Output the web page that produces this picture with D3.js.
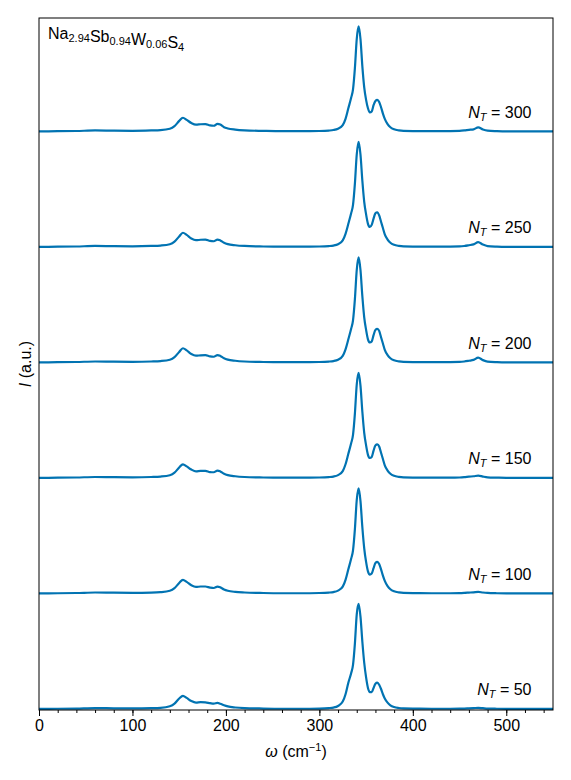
<!DOCTYPE html>
<html>
<head>
<meta charset="utf-8">
<title>Raman spectra</title>
<script src="https://d3js.org/d3.v7.min.js"></script>
<style>
    body { margin: 0; background: white; }
    svg { font-family: "Liberation Sans", Arial, sans-serif; }
</style>
</head>
<body>
<div id="chart"></div>
<script>
// wavenumber grid (cm^-1)
var omega = [0, 20, 40, 60, 80, 100, 120, 130, 140, 145, 150, 154, 158, 163, 168, 173, 178, 183, 187, 191, 194, 198, 202, 210, 220, 240, 260, 280, 300, 310, 315, 320, 325, 328, 331, 334, 336, 338, 340, 342, 344, 346, 348, 350, 352, 354, 356, 358, 360, 362, 364, 366, 368, 370, 373, 376, 380, 385, 390, 400, 420, 440, 450, 455, 460, 465, 470, 475, 480, 490, 500, 520, 550];

// normalized intensities, one array per N_T
var I50 = [0, 0.002, 0.004, 0.008, 0.006, 0.005, 0.007, 0.01, 0.025, 0.05, 0.1, 0.125, 0.105, 0.075, 0.06, 0.065, 0.062, 0.055, 0.05, 0.058, 0.05, 0.035, 0.024, 0.014, 0.008, 0.004, 0.002, 0.002, 0.004, 0.008, 0.013, 0.028, 0.07, 0.14, 0.25, 0.34, 0.42, 0.62, 0.9, 1.0, 0.88, 0.64, 0.44, 0.3, 0.2, 0.16, 0.16, 0.2, 0.24, 0.25, 0.23, 0.19, 0.14, 0.1, 0.06, 0.035, 0.018, 0.009, 0.005, 0.003, 0.002, 0.002, 0.003, 0.004, 0.006, 0.008, 0.01, 0.007, 0.004, 0.002, 0.001, 0.001, 0];
var I100 = [0, 0.002, 0.004, 0.009, 0.007, 0.006, 0.008, 0.012, 0.025, 0.05, 0.1, 0.13, 0.11, 0.078, 0.062, 0.066, 0.066, 0.056, 0.052, 0.065, 0.058, 0.038, 0.026, 0.015, 0.009, 0.004, 0.002, 0.002, 0.004, 0.008, 0.013, 0.027, 0.065, 0.13, 0.23, 0.33, 0.41, 0.61, 0.89, 1.0, 0.88, 0.63, 0.43, 0.3, 0.21, 0.18, 0.19, 0.24, 0.29, 0.3, 0.28, 0.23, 0.17, 0.12, 0.07, 0.04, 0.02, 0.01, 0.005, 0.003, 0.002, 0.002, 0.003, 0.005, 0.008, 0.011, 0.015, 0.009, 0.005, 0.002, 0.001, 0.001, 0];
var I150 = [0, 0.002, 0.004, 0.009, 0.007, 0.006, 0.009, 0.013, 0.026, 0.05, 0.1, 0.13, 0.11, 0.08, 0.063, 0.068, 0.068, 0.056, 0.054, 0.07, 0.062, 0.04, 0.027, 0.016, 0.009, 0.004, 0.002, 0.002, 0.004, 0.008, 0.013, 0.027, 0.065, 0.13, 0.23, 0.33, 0.41, 0.61, 0.89, 1.0, 0.88, 0.63, 0.43, 0.31, 0.22, 0.19, 0.2, 0.26, 0.31, 0.32, 0.3, 0.24, 0.18, 0.12, 0.07, 0.04, 0.02, 0.01, 0.005, 0.003, 0.002, 0.002, 0.004, 0.007, 0.012, 0.016, 0.022, 0.013, 0.006, 0.003, 0.001, 0.001, 0];
var I200 = [0, 0.002, 0.004, 0.009, 0.007, 0.006, 0.009, 0.013, 0.026, 0.05, 0.1, 0.135, 0.115, 0.08, 0.064, 0.068, 0.07, 0.057, 0.054, 0.07, 0.062, 0.04, 0.027, 0.016, 0.009, 0.004, 0.002, 0.002, 0.004, 0.008, 0.013, 0.026, 0.062, 0.125, 0.22, 0.32, 0.4, 0.6, 0.88, 1.0, 0.88, 0.63, 0.43, 0.31, 0.22, 0.19, 0.2, 0.26, 0.31, 0.32, 0.3, 0.24, 0.18, 0.12, 0.07, 0.04, 0.02, 0.01, 0.005, 0.003, 0.002, 0.003, 0.005, 0.009, 0.016, 0.024, 0.045, 0.022, 0.008, 0.003, 0.001, 0.001, 0];
var I250 = [0, 0.002, 0.004, 0.009, 0.007, 0.006, 0.009, 0.013, 0.026, 0.05, 0.1, 0.135, 0.115, 0.08, 0.064, 0.068, 0.07, 0.057, 0.054, 0.07, 0.062, 0.04, 0.027, 0.016, 0.009, 0.004, 0.002, 0.002, 0.004, 0.008, 0.013, 0.026, 0.062, 0.125, 0.22, 0.32, 0.4, 0.6, 0.88, 1.0, 0.88, 0.63, 0.43, 0.31, 0.22, 0.19, 0.21, 0.27, 0.32, 0.33, 0.3, 0.24, 0.18, 0.12, 0.07, 0.04, 0.02, 0.01, 0.005, 0.003, 0.002, 0.003, 0.005, 0.009, 0.016, 0.024, 0.045, 0.022, 0.008, 0.003, 0.001, 0.001, 0];
var I300 = [0, 0.002, 0.004, 0.009, 0.007, 0.006, 0.009, 0.012, 0.025, 0.05, 0.1, 0.13, 0.11, 0.08, 0.064, 0.068, 0.07, 0.057, 0.054, 0.072, 0.065, 0.04, 0.028, 0.017, 0.01, 0.005, 0.002, 0.002, 0.004, 0.008, 0.013, 0.026, 0.06, 0.12, 0.22, 0.32, 0.4, 0.6, 0.88, 1.0, 0.88, 0.62, 0.42, 0.3, 0.22, 0.18, 0.19, 0.25, 0.29, 0.3, 0.28, 0.23, 0.17, 0.12, 0.07, 0.04, 0.02, 0.01, 0.005, 0.003, 0.002, 0.003, 0.005, 0.009, 0.015, 0.02, 0.038, 0.018, 0.007, 0.003, 0.001, 0.001, 0];

var labels = [50, 100, 150, 200, 250, 300];
var series = [I50, I100, I150, I200, I250, I300];
var offset = 1.1;

var W = 571, H = 780;
var margin = { top: 18, right: 18, bottom: 70, left: 39 };
var width = W - margin.left - margin.right;
var height = H - margin.top - margin.bottom;

var svg = d3.select("#chart").append("svg")
    .attr("width", W)
    .attr("height", H);

var g = svg.append("g")
    .attr("transform", "translate(" + margin.left + "," + margin.top + ")");

var x = d3.scaleLinear().domain([0, 550]).range([0, width]);
var y = d3.scaleLinear().domain([-0.01, 5 * offset + 1.08]).range([height, 0]);

var line = d3.line()
    .x(function(d) { return x(d[0]); })
    .y(function(d) { return y(d[1]); })
    .curve(d3.curveMonotoneX);

g.append("defs").append("clipPath").attr("id", "clip")
    .append("rect").attr("width", width).attr("height", height);

series.forEach(function(vals, i) {
    var pts = omega.map(function(w, j) { return [w, vals[j] + i * offset]; });
    g.append("path")
        .datum(pts)
        .attr("clip-path", "url(#clip)")
        .attr("fill", "none")
        .attr("stroke", "#0173b2")
        .attr("stroke-width", 2.2)
        .attr("stroke-linejoin", "round")
        .attr("d", line);

    // N_T label
    var t = g.append("text")
        .attr("x", x(527))
        .attr("y", y(i * offset + 0.13))
        .attr("text-anchor", "end")
        .style("font-size", "16px");
    t.append("tspan").style("font-style", "italic").text("N");
    t.append("tspan").style("font-style", "italic").style("font-size", "11px")
        .attr("dy", 3).text("T");
    t.append("tspan").attr("dy", -3).text(" = " + labels[i]);
});

// axes
g.append("g")
    .attr("transform", "translate(0," + height + ")")
    .call(d3.axisBottom(x).tickValues(d3.range(0, 551, 20)).tickSize(3).tickFormat(""))
    .call(function(a) { a.select(".domain").remove(); });

g.append("g")
    .attr("transform", "translate(0," + height + ")")
    .call(d3.axisBottom(x).tickValues([0, 100, 200, 300, 400, 500]).tickSize(6).tickPadding(4))
    .call(function(a) {
        a.select(".domain").remove();
        a.selectAll("text").style("font-size", "16px").style("font-family", "Liberation Sans, Arial, sans-serif");
    });

// frame
g.append("rect")
    .attr("width", width)
    .attr("height", height)
    .attr("fill", "none")
    .attr("stroke", "black")
    .attr("stroke-width", 1);

// composition label
var comp = g.append("text")
    .attr("x", 9)
    .attr("y", 21)
    .style("font-size", "16px");
[["Na", "2.94"], ["Sb", "0.94"], ["W", "0.06"], ["S", "4"]].forEach(function(p) {
    comp.append("tspan").attr("dy", 0).text(p[0]);
    comp.append("tspan").style("font-size", "11px").attr("dy", 3).text(p[1]);
    comp.append("tspan").attr("dy", -3).text("");
});

// x label
var xl = svg.append("text")
    .attr("x", margin.left + width / 2)
    .attr("y", 757)
    .attr("text-anchor", "middle")
    .style("font-size", "16px");
xl.append("tspan").style("font-style", "italic").text("ω");
xl.append("tspan").text(" (cm");
xl.append("tspan").style("font-size", "11px").attr("dy", -6).text("−1");
xl.append("tspan").attr("dy", 6).text(")");

// y label
var yl = svg.append("text")
    .attr("transform", "translate(31," + (margin.top + height / 2) + ") rotate(-90)")
    .attr("text-anchor", "middle")
    .style("font-size", "16px");
yl.append("tspan").style("font-style", "italic").text("I");
yl.append("tspan").text(" (a.u.)");
</script>
</body>
</html>
